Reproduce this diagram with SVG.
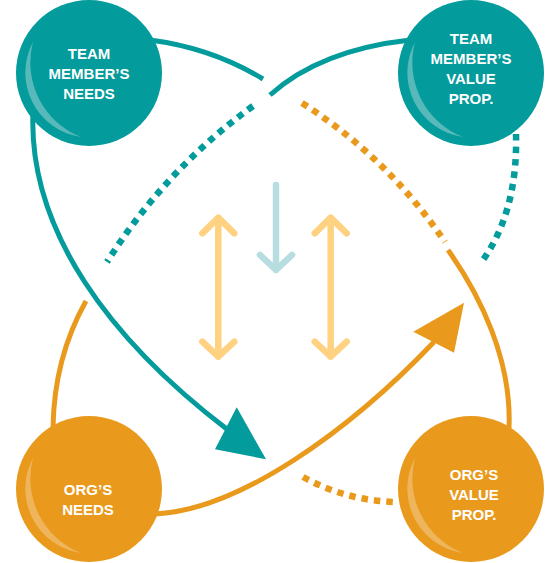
<svg xmlns="http://www.w3.org/2000/svg" width="545" height="563" viewBox="0 0 545 563">
  <style>
    .teal { fill: none; stroke: #039b9b; stroke-width: 5; }
    .orange { fill: none; stroke: #e99a1c; stroke-width: 5; }
    .tdot { fill: none; stroke: #039b9b; stroke-width: 6.5; stroke-dasharray: 6.5 6; }
    .odot { fill: none; stroke: #e99a1c; stroke-width: 6.5; stroke-dasharray: 6.5 6; }
    .yel { fill: none; stroke: #fed280; stroke-width: 6.5; stroke-linecap: round; stroke-linejoin: round; }
    .lt { fill: none; stroke: #b7dde0; stroke-width: 6.5; stroke-linecap: round; stroke-linejoin: round; }
    .tealfill { fill: #039b9b; }
    .orangefill { fill: #e99a1c; }
    .tealhl { fill: #58b9ba; }
    .orangehl { fill: #efb55c; }
    .label { font-family: "Liberation Sans", Arial, sans-serif; font-weight: bold; font-size: 15px; fill: #ffffff; text-anchor: middle; }
  </style>
  <defs>
    <path id="crescent" d="M -56,-31 A 65 65 0 0 0 -8,64 A 80 80 0 0 1 -56,-31 Z"/>
  </defs>
  <rect width="545" height="563" fill="#ffffff"/>
  <g id="connectors">
    <path class="teal" d="M 150,40 Q 212,48 263,79"/>
    <path class="teal" d="M 270,95 Q 320,50 410,40"/>
    <path class="tdot" d="M 253,106 Q 165,170 107,262"/>
    <path class="orange" d="M 86,301 Q 54,358 53,428"/>
    <path class="teal" d="M 33,112 C 28,230 110,340 228,430"/>
    <polygon class="tealfill" points="236.7,407.3 215,449.3 266,459.3"/>
    <path class="orange" d="M 155,514 C 240,510 350,430 434,342"/>
    <polygon class="orangefill" points="464,302.7 413.3,331.7 454,352.7"/>
    <path class="odot" d="M 302,103 Q 388,158 445,242"/>
    <path class="orange" d="M 448,250 C 480,295 512,360 509,428"/>
    <path class="tdot" d="M 516,134 Q 518,210 483,260"/>
    <path class="odot" d="M 303,477 Q 345,500 393,502"/>
    <path class="yel" d="M 218.3,217.7 V 356.7 M 202.3,233.3 L 218.3,217.7 L 234.3,233.3 M 202.3,341.7 L 218.3,356.7 L 234.3,341.7"/>
    <path class="yel" d="M 330.7,217.7 V 356.7 M 314.7,233.3 L 330.7,217.7 L 346.7,233.3 M 314.7,341.7 L 330.7,356.7 L 346.7,341.7"/>
    <path class="lt" d="M 276,185 V 270 M 260,255 L 276,270 L 292,255"/>
  </g>
  <g id="team-needs">
    <circle class="tealfill" cx="89" cy="73" r="73"/>
    <use href="#crescent" class="tealhl" transform="translate(89,73)"/>
    <text class="label" x="89" y="59">TEAM</text>
    <text class="label" x="89" y="79">MEMBER’S</text>
    <text class="label" x="89" y="99">NEEDS</text>
  </g>
  <g id="team-value">
    <circle class="tealfill" cx="471" cy="73" r="73"/>
    <use href="#crescent" class="tealhl" transform="translate(471,73)"/>
    <text class="label" x="471" y="44">TEAM</text>
    <text class="label" x="471" y="64">MEMBER’S</text>
    <text class="label" x="471" y="84">VALUE</text>
    <text class="label" x="471" y="104">PROP.</text>
  </g>
  <g id="org-needs">
    <circle class="orangefill" cx="89" cy="489" r="73"/>
    <use href="#crescent" class="orangehl" transform="translate(89,489)"/>
    <text class="label" x="88" y="495">ORG’S</text>
    <text class="label" x="88" y="515">NEEDS</text>
  </g>
  <g id="org-value">
    <circle class="orangefill" cx="471" cy="489" r="73"/>
    <use href="#crescent" class="orangehl" transform="translate(471,489)"/>
    <text class="label" x="474" y="480">ORG’S</text>
    <text class="label" x="474" y="500">VALUE</text>
    <text class="label" x="474" y="520">PROP.</text>
  </g>
</svg>
